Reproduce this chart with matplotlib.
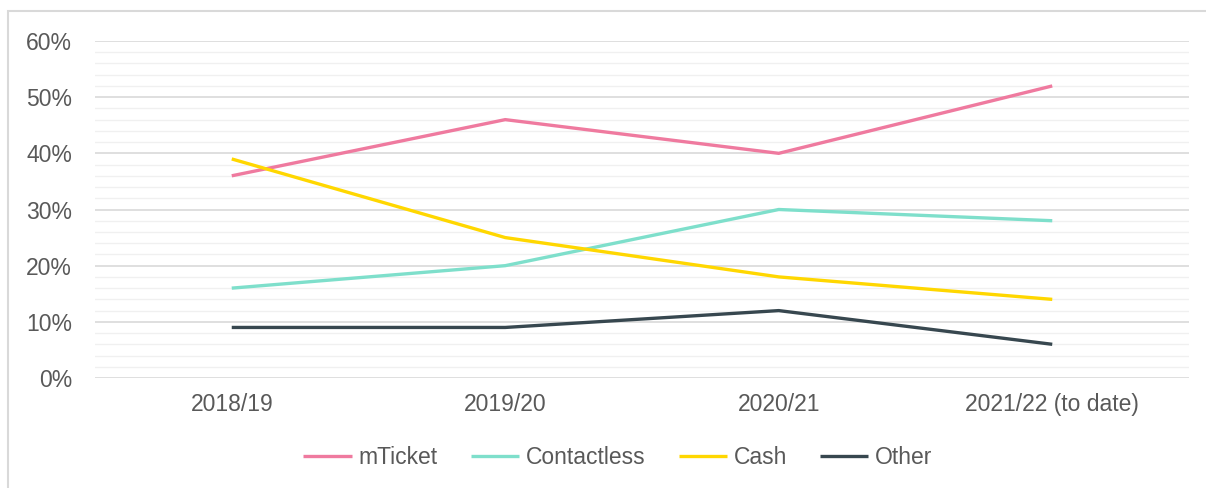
import matplotlib
matplotlib.use("Agg")
import matplotlib.pyplot as plt
from matplotlib.patches import Rectangle
import numpy as np

plt.rcParams['font.family'] = ['Liberation Sans', 'DejaVu Sans']

years = ["2018/19", "2019/20", "2020/21", "2021/22 (to date)"]
mticket = [36, 46, 40, 52]
contactless = [16, 20, 30, 28]
cash = [39, 25, 18, 14]
other = [9, 9, 12, 6]

series = [
    ("mTicket", mticket, "#EF7A9F"),
    ("Contactless", contactless, "#7EDFCB"),
    ("Cash", cash, "#FFD700"),
    ("Other", other, "#37474F"),
]

FS = 16.5

fig = plt.figure(figsize=(12.06, 4.88), dpi=100)
# outer chart border
fig.patches.append(Rectangle((8 / 1206, -0.1), 1.2, (488 - 11) / 488 + 0.1,
                             transform=fig.transFigure, fill=False,
                             edgecolor="#D9D9D9", linewidth=1.5))

ax = fig.add_axes([95 / 1206, 1 - 378 / 488, (1189 - 95) / 1206, (378 - 41) / 488])

x = np.arange(len(years)) + 0.5
for name, vals, col in series:
    ax.plot(x, vals, color=col, linewidth=2.4, label=name,
            solid_capstyle="butt")

ax.set_xlim(0, 4)
ax.set_ylim(0, 60)
ax.set_yticks(np.arange(0, 61, 10))
ax.set_yticklabels([f"{v}%" for v in range(0, 61, 10)])
ax.set_xticks(x)
ax.set_xticklabels(years)

for v in np.arange(2, 60, 2):
    if v % 10:
        ax.axhline(v, color="#F0F0F0", linewidth=1.0, zorder=0)
for v in range(0, 61, 10):
    ax.axhline(v, color="#D9D9D9", linewidth=1.2, zorder=0.5)

for s in ax.spines.values():
    s.set_visible(False)
ax.tick_params(length=0, labelsize=FS, labelcolor="#595959")
ax.tick_params(axis="y", pad=16.5)
ax.tick_params(axis="x", pad=11)

fig.legend(loc="center", bbox_to_anchor=(618 / 1206, 1 - 458 / 488),
           ncol=4, frameon=False, fontsize=FS, labelcolor="#595959",
           handlelength=2.1, handletextpad=0.3, columnspacing=1.45)

fig.savefig("out.png", dpi=100)
